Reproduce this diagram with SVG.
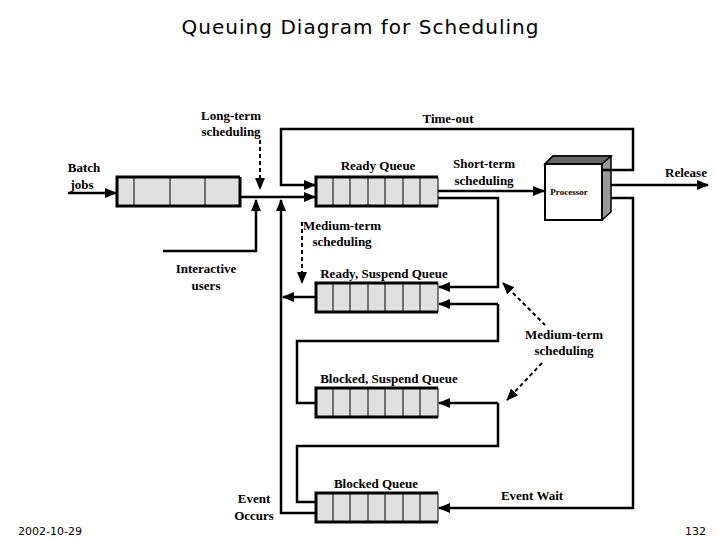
<svg xmlns="http://www.w3.org/2000/svg" width="720" height="540" viewBox="0 0 720 540">
<style>
.t{font-family:"Liberation Serif",serif;font-weight:bold;font-size:13px;fill:#000;text-anchor:middle}
.q{fill:#e0e0e0;stroke:none}
.qe{fill:none;stroke:#000;stroke-width:3}
.d{stroke:#000;stroke-width:1}
.c{fill:none;stroke:#000;stroke-width:2.5}
.ds{fill:none;stroke:#000;stroke-width:2;stroke-dasharray:4,3}
</style>
<defs>
<marker id="a" markerWidth="12" markerHeight="10" refX="11" refY="5" orient="auto" markerUnits="userSpaceOnUse"><path d="M0,0L12,5L0,10z" fill="#000"/></marker>
<marker id="b" markerWidth="12" markerHeight="10" refX="11" refY="5" orient="auto-start-reverse" markerUnits="userSpaceOnUse"><path d="M0,0L12,5L0,10z" fill="#000"/></marker>
</defs>
<rect width="720" height="540" fill="#fff"/>
<text x="360" y="34" style="font-family:'DejaVu Sans',sans-serif;font-size:20px;text-anchor:middle" textLength="357">Queuing Diagram for Scheduling</text>
<text x="18" y="535" style="font-family:'DejaVu Sans',sans-serif;font-size:11px">2002-10-29</text>
<text x="706" y="535" style="font-family:'DejaVu Sans',sans-serif;font-size:11px;text-anchor:end">132</text>

<g id="batch-queue">
<rect class="q" x="117" y="177" width="123" height="29"/>
<path class="d" d="M134,177V206M170,177V206M205,177V206"/>
<path class="qe" d="M240,177H117V206H240V177"/>
</g>
<g id="ready-queue">
<rect class="q" x="316" y="177" width="122" height="29"/>
<path class="d" d="M333,177V206M350,177V206M368,177V206M385,177V206M403,177V206M420,177V206M438,177V206"/>
<path class="qe" d="M438,177H316V206H438"/>
</g>
<g id="ready-suspend-queue">
<rect class="q" x="316" y="283" width="122" height="29"/>
<path class="d" d="M333,283V312M350,283V312M368,283V312M385,283V312M403,283V312M420,283V312M438,283V312"/>
<path class="qe" d="M438,283H316V312H438"/>
</g>
<g id="blocked-suspend-queue">
<rect class="q" x="316" y="388" width="122" height="29"/>
<path class="d" d="M333,388V417M350,388V417M368,388V417M385,388V417M403,388V417M420,388V417M438,388V417"/>
<path class="qe" d="M438,388H316V417H438"/>
</g>
<g id="blocked-queue">
<rect class="q" x="316" y="493" width="122" height="29"/>
<path class="d" d="M333,493V522M350,493V522M368,493V522M385,493V522M403,493V522M420,493V522M438,493V522"/>
<path class="qe" d="M438,493H316V522H438"/>
</g>
<g id="processor">
<path d="M545,164L553,156H611V212L602,220Z" fill="#999" stroke="#000" stroke-width="1.5"/>
<path d="M545,164L553,156H611L602,164Z" fill="#666" stroke="#000" stroke-width="1.5"/>
<rect x="545" y="164" width="57" height="56" fill="#fff" stroke="#000" stroke-width="2"/>
<text class="t" x="569" y="195" style="font-size:9px">Processor</text>
</g>

<g id="connectors">
<path class="c" d="M68,193H116" marker-end="url(#a)"/>
<path class="c" d="M240,197H315" marker-end="url(#a)"/>
<path class="ds" d="M260,140V189" marker-end="url(#a)"/>
<path class="c" d="M163,251H256V200" marker-end="url(#a)"/>
<path class="c" d="M315,513H281V200" marker-end="url(#a)"/>
<path class="c" d="M602,170H633V129H281V185H315" marker-end="url(#a)"/>
<path class="c" d="M438,191H544" marker-end="url(#a)"/>
<path class="c" d="M611,185H708" marker-end="url(#a)"/>
<path class="c" d="M438,198H498V287H439" marker-end="url(#a)"/>
<path class="c" d="M316,297H283" marker-end="url(#a)"/>
<path class="ds" d="M302,222V283" marker-end="url(#a)"/>
<path class="c" d="M498,304H439" marker-end="url(#a)"/>
<path class="c" d="M498,304V341H297V403H316"/>
<path class="c" d="M498,403H439" marker-end="url(#a)"/>
<path class="c" d="M498,403V446H297V502H316"/>
<path class="c" d="M611,198H633V508H439" marker-end="url(#a)"/>
<path class="ds" d="M503,283L545,325" marker-start="url(#b)"/>
<path class="ds" d="M542,363L507,400" marker-end="url(#a)"/>
</g>

<g id="labels">
<text class="t" x="231" y="120">Long-term</text>
<text class="t" x="231" y="136">scheduling</text>
<text class="t" x="448" y="123">Time-out</text>
<text class="t" x="84" y="172">Batch</text>
<text class="t" x="82" y="189">jobs</text>
<text class="t" x="378" y="170">Ready Queue</text>
<text class="t" x="484" y="168">Short-term</text>
<text class="t" x="484" y="185">scheduling</text>
<text class="t" x="686" y="177">Release</text>
<text class="t" x="342" y="230">Medium-term</text>
<text class="t" x="342" y="246">scheduling</text>
<text class="t" x="206" y="273">Interactive</text>
<text class="t" x="206" y="290">users</text>
<text class="t" x="384" y="278">Ready, Suspend Queue</text>
<text class="t" x="564" y="339">Medium-term</text>
<text class="t" x="564" y="355">scheduling</text>
<text class="t" x="389" y="383">Blocked, Suspend Queue</text>
<text class="t" x="376" y="488">Blocked Queue</text>
<text class="t" x="532" y="500">Event Wait</text>
<text class="t" x="254" y="503">Event</text>
<text class="t" x="254" y="520">Occurs</text>
</g>
</svg>
